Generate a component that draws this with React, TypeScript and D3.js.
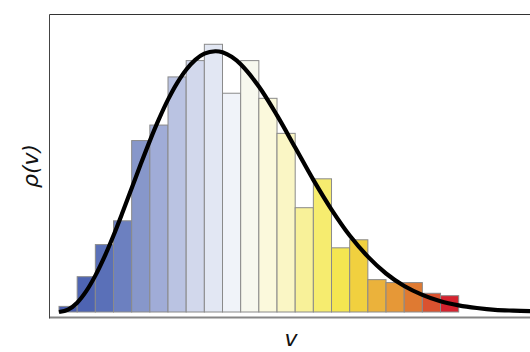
import React from "react";
import * as d3 from "d3";

// Histogram bins (lower edge of each bin, bin width 0.1)
const binStart = [0.0, 0.1, 0.2, 0.3, 0.4, 0.5, 0.6, 0.7, 0.8, 0.9, 1.0, 1.1, 1.2, 1.3, 1.4, 1.5, 1.6, 1.7, 1.8, 1.9, 2.0, 2.1];
const binWidth = 0.1;
// Normalised density per bin
const binDensity = [0.021, 0.132, 0.252, 0.341, 0.641, 0.699, 0.879, 0.94, 1.001, 0.818, 0.94, 0.799, 0.668, 0.39, 0.498, 0.24, 0.27, 0.121, 0.11, 0.11, 0.07, 0.061];
// Bar colours (blue -> white -> yellow -> red)
const binColors = [
  "#4a5eae", "#4e64b2", "#5a70b8", "#6c80c0", "#8797ca", "#a0acd7", "#bac3e2", "#d2d8ec",
  "#e2e7f3", "#f0f3f9", "#f7f8ee", "#fbf9dc", "#faf6c5", "#f8f199", "#f6ec6f", "#f4e651",
  "#f1d03f", "#ebb23b", "#e69837", "#df7a32", "#da522f", "#d5222e",
];
// Theoretical curve
const curveV = [0, 0.05, 0.1, 0.15, 0.2, 0.25, 0.3, 0.35, 0.4, 0.45, 0.5, 0.55, 0.6, 0.65, 0.7, 0.75, 0.8, 0.86, 0.9, 0.95, 1.0, 1.1, 1.2, 1.3, 1.4, 1.5, 1.6, 1.7, 1.8, 1.9, 2.0, 2.1, 2.2, 2.3, 2.4, 2.5, 2.6];
const curveRho = [0, 0.009, 0.035, 0.078, 0.136, 0.206, 0.286, 0.373, 0.463, 0.553, 0.64, 0.721, 0.794, 0.856, 0.906, 0.943, 0.966, 0.975, 0.971, 0.954, 0.926, 0.843, 0.735, 0.615, 0.494, 0.383, 0.286, 0.207, 0.144, 0.097, 0.064, 0.04, 0.025, 0.015, 0.008, 0.005, 0.003];

const xLabel = "v";
const yLabel = "ρ(v)";

export default function App() {
  const W = 530, H = 352;
  const left = 49.5, top = 14.5, bottom = 317.5, right = 534;
  const x = d3.scaleLinear().domain([0, 2.2]).range([59, 458.7]);
  const y = d3.scaleLinear().domain([0, 1]).range([312, 312 - 267.44]);

  const line = d3
    .line<number>()
    .x((_, i) => x(curveV[i]))
    .y((d) => y(d))
    .curve(d3.curveCatmullRom.alpha(0.5));

  const font = "'DejaVu Sans', 'Open Sans', sans-serif";

  return (
    <svg width={W} height={H} style={{ position: "absolute", left: 0, top: 0 }} xmlns="http://www.w3.org/2000/svg">
      <rect x={0} y={0} width={W} height={H} fill="#ffffff" />
      <defs>
        <clipPath id="plotclip">
          <rect x={left} y={top} width={right - left} height={bottom - top} />
        </clipPath>
      </defs>
      <g>
        {binStart.map((b, i) => {
          const x0 = x(b);
          const x1 = x(b + binWidth);
          const yt = y(binDensity[i]);
          return (
            <rect
              key={i}
              x={x0}
              y={yt}
              width={x1 - x0}
              height={y(0) - yt}
              fill={binColors[i]}
              stroke="#8a8a8a"
              strokeWidth={1}
            />
          );
        })}
      </g>
      <g clipPath="url(#plotclip)">
        <path d={line(curveRho) || ""} fill="none" stroke="#000" strokeWidth={4.2} strokeLinejoin="round" />
      </g>
      <line x1={left} y1={bottom} x2={right} y2={bottom} stroke="#858585" strokeWidth={2} />
      <line x1={left} y1={top} x2={right} y2={top} stroke="#333" strokeWidth={1} />
      <line x1={left} y1={top} x2={left} y2={bottom + 1} stroke="#444" strokeWidth={1} />
      <text
        x={291}
        y={346}
        textAnchor="middle"
        fontFamily={font}
        fontStyle="italic"
        fontSize={22}
        fill="#111"
      >
        {xLabel}
      </text>
      <text
        transform="translate(38,166) rotate(-90)"
        textAnchor="middle"
        fontFamily={font}
        fontStyle="italic"
        fontSize={22}
        fill="#111"
      >
        {yLabel}
      </text>
    </svg>
  );
}
